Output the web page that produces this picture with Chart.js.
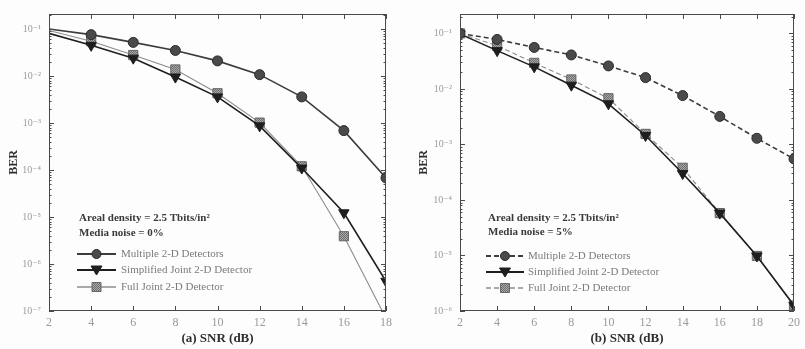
<!DOCTYPE html>
<html>
<head>
<meta charset="utf-8">
<script src="https://cdn.jsdelivr.net/npm/chart.js@4/dist/chart.umd.min.js"></script>
<style>
  html, body { margin: 0; padding: 0; background: #fff; }
  #wrap { position: relative; width: 805px; height: 349px; overflow: hidden; background: #fdfdfd; }
  canvas { position: absolute; top: 0; }
  #ca { left: 0; }
  #cb { left: 400px; }
</style>
</head>
<body>
<div id="wrap">
  <canvas id="ca" width="400" height="349"></canvas>
  <canvas id="cb" width="405" height="349"></canvas>
</div>
<script>
// SNR values (dB)
const snrA = [2, 4, 6, 8, 10, 12, 14, 16, 18];
const snrB = [2, 4, 6, 8, 10, 12, 14, 16, 18, 20];

// BER, media noise 0%
const multipleA   = [1.0e-1, 7.6e-2, 5.2e-2, 3.5e-2, 2.1e-2, 1.07e-2, 3.6e-3, 6.9e-4, 6.8e-5];
const simplifiedA = [8.1e-2, 4.5e-2, 2.4e-2, 9.5e-3, 3.6e-3, 8.7e-4, 1.1e-4, 1.23e-5, 4.3e-7];
const fullA       = [9.3e-2, 5.5e-2, 2.8e-2, 1.38e-2, 4.3e-3, 1.02e-3, 1.2e-4, 3.9e-6, 7.0e-8];

// BER, media noise 5%
const multipleB   = [1.0e-1, 7.8e-2, 5.6e-2, 4.1e-2, 2.6e-2, 1.6e-2, 7.6e-3, 3.2e-3, 1.29e-3, 5.5e-4];
const simplifiedB = [9.8e-2, 4.9e-2, 2.5e-2, 1.17e-2, 5.4e-3, 1.45e-3, 3.0e-4, 5.8e-5, 9.8e-6, 1.26e-6];
const fullB       = [1.0e-1, 6.0e-2, 2.95e-2, 1.48e-2, 6.8e-3, 1.55e-3, 3.8e-4, 5.8e-5, 9.8e-6, 1.26e-6];

// Axis tick labels
const xTicksA = [2, 4, 6, 8, 10, 12, 14, 16, 18];
const xTicksB = [2, 4, 6, 8, 10, 12, 14, 16, 18, 20];
const yTicksA = [1e-1, 1e-2, 1e-3, 1e-4, 1e-5, 1e-6, 1e-7];
const yTicksB = [1e-1, 1e-2, 1e-3, 1e-4, 1e-5, 1e-6];

const seriesNames = ['Multiple 2-D Detectors', 'Simplified Joint 2-D Detector', 'Full Joint 2-D Detector'];
const noteA = ['Areal density = 2.5 Tbits/in\u00B2', 'Media noise = 0%'];
const noteB = ['Areal density = 2.5 Tbits/in\u00B2', 'Media noise = 5%'];

const SERIF = "'Liberation Serif', 'DejaVu Serif', serif";
const SUP = {'-': '\u207B', '0': '\u2070', '1': '\u00B9', '2': '\u00B2', '3': '\u00B3', '4': '\u2074',
             '5': '\u2075', '6': '\u2076', '7': '\u2077', '8': '\u2078', '9': '\u2079'};
function powLabel(v) {
  const e = String(Math.round(Math.log10(v)));
  return '10' + e.split('').map(c => SUP[c]).join('');
}

// checkered fill used for the square markers
function hatch() {
  const c = document.createElement('canvas');
  c.width = 2; c.height = 2;
  const g = c.getContext('2d');
  g.fillStyle = '#a8a8a8'; g.fillRect(0, 0, 2, 2);
  g.fillStyle = '#6e6e6e'; g.fillRect(0, 0, 1, 1); g.fillRect(1, 1, 1, 1);
  return g.createPattern(c, 'repeat');
}
const squareFill = hatch();

const STYLE = [
  { line: '#3c3c3c', width: 1.6, point: 'circle', r: 5, fill: '#4a4a4a', edge: '#2a2a2a', rot: 0 },
  { line: '#1e1e1e', width: 1.6, point: 'triangle', r: 6, fill: '#1e1e1e', edge: '#1e1e1e', rot: 180 },
  { line: '#8c8c8c', width: 1.1, point: 'rect', r: 6.5, fill: squareFill, edge: '#666', rot: 0 }
];

function makeSets(xs, ys, dashes, hideFirst) {
  return ys.map((vals, i) => {
    const s = STYLE[i];
    const radius = xs.map((_, k) => (hideFirst && k === 0) ? 0 : s.r);
    return {
      label: seriesNames[i],
      data: xs.map((x, k) => ({ x, y: vals[k] })),
      borderColor: s.line,
      borderWidth: s.width,
      borderDash: dashes[i],
      pointStyle: s.point,
      pointRotation: s.rot,
      pointRadius: radius,
      pointBackgroundColor: s.fill,
      pointBorderColor: s.edge,
      pointBorderWidth: 1,
      tension: 0,
      fill: false
    };
  });
}

// frame with inward major/minor ticks on all four sides
const frameTicks = {
  id: 'frameTicks',
  afterDatasetsDraw(chart) {
    const { ctx, chartArea: a, scales: { x, y } } = chart;
    ctx.save();
    ctx.strokeStyle = '#4a4a4a';
    ctx.lineWidth = 1;
    const seg = (x1, y1, x2, y2) => { ctx.beginPath(); ctx.moveTo(x1, y1); ctx.lineTo(x2, y2); ctx.stroke(); };
    ctx.strokeRect(Math.round(a.left) + 0.5, Math.round(a.top) + 0.5,
                   Math.round(a.right - a.left) - 1, Math.round(a.bottom - a.top) - 1);
    for (const t of x.ticks) {
      const px = Math.round(x.getPixelForValue(t.value)) + 0.5;
      seg(px, a.bottom, px, a.bottom - 5);
      seg(px, a.top, px, a.top + 5);
    }
    const lo = Math.floor(Math.log10(y.min)), hi = Math.ceil(Math.log10(y.max));
    for (let e = lo; e < hi; e++) {
      for (let k = 1; k < 10; k++) {
        const v = k * Math.pow(10, e);
        if (v < y.min * 0.999 || v > y.max) continue;
        const py = Math.round(y.getPixelForValue(v)) + 0.5;
        const len = k === 1 ? 5 : 2.5;
        seg(a.left, py, a.left + len, py);
        seg(a.right, py, a.right - len, py);
      }
    }
    ctx.restore();
  }
};

// in-plot notes and legend
const noteLegend = {
  id: 'noteLegend',
  afterDraw(chart, args, o) {
    const { ctx } = chart;
    ctx.save();
    ctx.textBaseline = 'middle';
    ctx.textAlign = 'left';
    ctx.font = 'bold 11px ' + SERIF;
    ctx.fillStyle = '#3a3a3a';
    o.note.forEach((t, i) => ctx.fillText(t, o.x, o.noteY[i]));
    ctx.font = '11px ' + SERIF;
    chart.data.datasets.forEach((ds, i) => {
      const yy = o.rowY[i];
      ctx.strokeStyle = ds.borderColor;
      ctx.lineWidth = ds.borderWidth + 0.4;
      ctx.setLineDash(ds.borderDash || []);
      ctx.beginPath(); ctx.moveTo(o.lx0, yy); ctx.lineTo(o.lx1, yy); ctx.stroke();
      ctx.setLineDash([]);
      const cx = (o.lx0 + o.lx1) / 2;
      ctx.fillStyle = ds.pointBackgroundColor;
      ctx.strokeStyle = ds.pointBorderColor;
      ctx.lineWidth = 1;
      ctx.beginPath();
      if (ds.pointStyle === 'circle') {
        ctx.arc(cx, yy, 4.5, 0, Math.PI * 2);
      } else if (ds.pointStyle === 'triangle') {
        ctx.moveTo(cx - 5.5, yy - 4); ctx.lineTo(cx + 5.5, yy - 4); ctx.lineTo(cx, yy + 5); ctx.closePath();
      } else {
        ctx.rect(cx - 4.5, yy - 4.5, 9, 9);
      }
      ctx.fill(); ctx.stroke();
      ctx.fillStyle = '#7a7a7a';
      ctx.fillText(ds.label, o.tx, yy);
    });
    ctx.restore();
  }
};

function makeChart(id, xs, xTicks, yTicks, sets, yMin, yMax, xTitle, yTitlePad, padRight, yWidth, legendPos) {
  return new Chart(document.getElementById(id), {
    type: 'line',
    data: { datasets: sets },
    options: {
      responsive: false,
      animation: false,
      layout: { padding: { top: 7, right: padRight, left: 0, bottom: 0 } },
      plugins: {
        legend: { display: false },
        tooltip: { enabled: false },
        noteLegend: legendPos
      },
      scales: {
        x: {
          type: 'linear',
          min: xTicks[0], max: xTicks[xTicks.length - 1],
          afterBuildTicks: s => { s.ticks = xTicks.map(v => ({ value: v })); },
          afterFit: s => { s.height = 38; },
          grid: { display: false, drawTicks: false },
          border: { display: false },
          ticks: { color: '#9a9a9a', font: { family: SERIF, size: 12 }, padding: 5, maxRotation: 0 },
          title: { display: true, text: xTitle, color: '#2e2e2e',
                   font: { family: SERIF, size: 13, weight: 'bold' }, padding: { top: 0, bottom: 3 } }
        },
        y: {
          type: 'logarithmic',
          min: yMin, max: yMax,
          afterBuildTicks: s => { s.ticks = yTicks.map(v => ({ value: v })); },
          afterFit: s => { s.width = yWidth; },
          grid: { display: false, drawTicks: false },
          border: { display: false },
          ticks: { color: '#9a9a9a', font: { family: SERIF, size: 10 }, padding: 8,
                   callback: v => powLabel(v) },
          title: { display: true, text: 'BER', color: '#2e2e2e',
                   font: { family: SERIF, size: 12, weight: 'bold' }, padding: { top: yTitlePad, bottom: 0 } }
        }
      }
    },
    plugins: [frameTicks, noteLegend]
  });
}

makeChart('ca', snrA, xTicksA, yTicksA,
  makeSets(snrA, [multipleA, simplifiedA, fullA], [[], [], []], true),
  1e-7, Math.pow(10, -0.68), '(a) SNR (dB)', 7, 14, 49,
  { note: noteA, x: 79, noteY: [218, 233], rowY: [254, 270, 287], lx0: 77, lx1: 116, tx: 121 });

makeChart('cb', snrB, xTicksB, yTicksB,
  makeSets(snrB, [multipleB, simplifiedB, fullB], [[5, 3], [], [5, 3]], false),
  1e-6, Math.pow(10, -0.65), '(b) SNR (dB)', 17, 4, 60,
  { note: noteB, x: 88, noteY: [218, 232], rowY: [256, 272, 288], lx0: 86, lx1: 124, tx: 128 });
</script>
</body>
</html>
